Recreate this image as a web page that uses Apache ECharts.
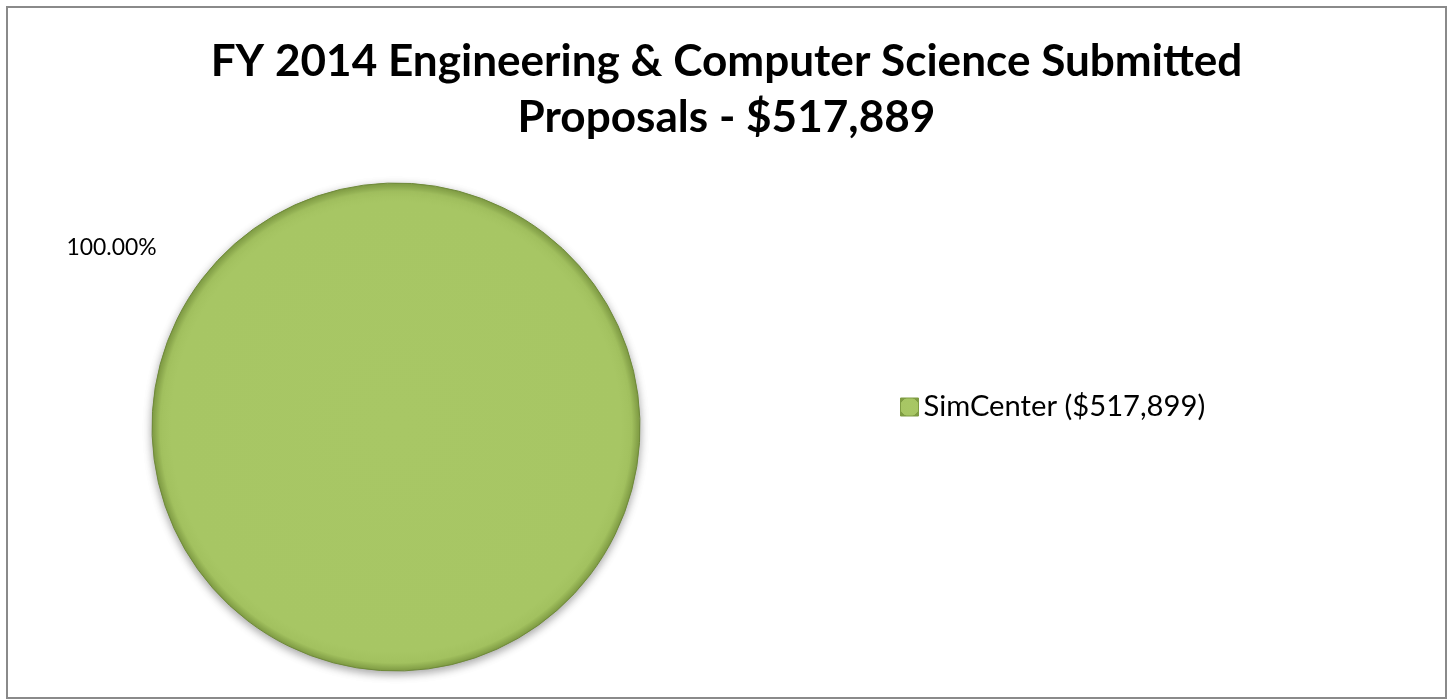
<!DOCTYPE html>
<html>
<head>
<meta charset="utf-8">
<script src="https://cdn.jsdelivr.net/npm/echarts@6/dist/echarts.min.js"></script>
<style>
  html, body { margin: 0; padding: 0; background: #ffffff; }
  #chart { width: 1453px; height: 700px; }
</style>
</head>
<body>
<div id="chart"></div>
<script>
// ---- data ----
const titleLines = ['FY 2014 Engineering & Computer Science Submitted', 'Proposals - $517,889'];
const categories = ['SimCenter ($517,899)'];
const values = [517899];

// ---- helpers: fit a font size to a measured target width ----
const FONT = 'Lato';
const ctx = document.createElement('canvas').getContext('2d');
function fitSize(text, weight, targetWidth) {
  ctx.font = weight + ' 100px ' + FONT;
  return Math.round(100 * targetWidth / ctx.measureText(text).width * 10) / 10;
}
const titleSize = fitSize(titleLines[0], 'bold', 1032);
const legendSize = fitSize(categories[0], 'normal', 282);
const labelSize = fitSize('100.00%', 'normal', 90);

const pieFill = {
  type: 'radial', x: 0.5, y: 0.5, r: 0.5,
  colorStops: [
    { offset: 0, color: '#A8C765' },
    { offset: 0.92, color: '#A7C664' },
    { offset: 0.965, color: '#A2C15F' },
    { offset: 1, color: '#7F9C43' }
  ]
};

const chart = echarts.init(document.getElementById('chart'), null, { renderer: 'canvas' });
chart.setOption({
  backgroundColor: '#ffffff',
  animation: false,
  title: titleLines.map((t, i) => ({
    text: t,
    left: 'center',
    top: 34 + i * 56,
    padding: 0,
    textStyle: {
      fontFamily: FONT,
      fontWeight: 'bold',
      fontSize: titleSize,
      lineHeight: 56,
      color: '#000000'
    }
  })),
  legend: {
    orient: 'vertical',
    left: 895,
    top: 387,
    icon: 'rect',
    itemWidth: 18,
    itemHeight: 18,
    data: categories,
    textStyle: {
      fontFamily: FONT,
      fontSize: legendSize,
      lineHeight: 30,
      color: '#000000'
    },
    itemStyle: { borderColor: '#7F9C43', borderWidth: 1 }
  },
  graphic: [
    {
      type: 'rect',
      silent: true,
      z: -1,
      shape: { x: 7, y: 7, width: 1439, height: 691 },
      style: { fill: 'none', stroke: '#8A8A8A', lineWidth: 2 }
    }
  ],
  series: [
    {
      type: 'pie',
      center: [396, 427],
      radius: [0, 244],
      startAngle: -37.4,
      clockwise: true,
      data: categories.map((c, i) => ({ name: c, value: values[i] })),
      itemStyle: {
        color: pieFill,
        borderColor: '#6F8A3A',
        borderWidth: 1,
        shadowColor: 'rgba(0,0,0,0.35)',
        shadowBlur: 8,
        shadowOffsetY: 3
      },
      label: {
        show: true,
        position: 'outside',
        formatter: p => p.percent.toFixed(2) + '%',
        fontFamily: FONT,
        fontSize: labelSize,
        color: '#000000'
      },
      labelLine: { show: false, length: 51, length2: 0 },
      emphasis: { disabled: true }
    }
  ]
});
</script>
</body>
</html>
